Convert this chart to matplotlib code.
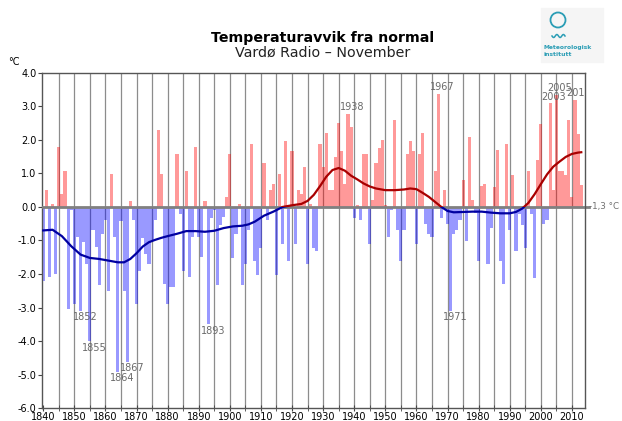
import numpy as np
import matplotlib.pyplot as plt
from matplotlib.patches import Rectangle, Ellipse
from matplotlib.lines import Line2D
from matplotlib.transforms import blended_transform_factory

# November temperature anomaly, Vardø Radio, 1840-2013 (deg C, from normal)
years = np.arange(1840, 2014)
anomaly = [
    -2.2, 0.5, -2.1, 0.08, -2.0, 1.8, 0.38, 1.08, -3.03, -0.1,        # 1840s
    -2.9, -0.91, -3.09, -1.03, -1.69, -4.0, -0.7, -1.2, -2.32, -0.81,  # 1850s
    -0.4, -2.5, 0.97, -0.91, -4.91, -0.42, -2.51, -4.61, 0.18, -0.4,   # 1860s
    -2.9, -1.9, -0.92, -1.4, -1.7, -1.0, -0.4, 2.3, 0.98, -2.3,        # 1870s
    -2.9, -2.4, -2.4, 1.59, -0.2, -1.9, 1.08, -2.1, -0.91, 1.78,       # 1880s
    -0.91, -1.5, 0.18, -3.5, -0.34, -0.1, -2.32, -0.53, -0.3, 0.3,     # 1890s
    1.59, -1.52, -0.81, 0.08, -2.32, -1.7, -0.68, 1.89, -1.6, -2.02,   # 1900s
    -1.21, 1.3, -0.39, 0.49, 0.67, -2.02, 0.97, -1.11, 1.96, -1.6,     # 1910s
    1.66, -1.11, 0.49, 0.38, 1.18, -1.7, 0.08, -1.21, -1.31, 1.89,     # 1920s
    1.18, 2.19, 0.49, 0.49, 1.5, 2.49, 1.67, 0.67, 2.78, 2.37,         # 1930s
    -0.32, 0.07, -0.4, 1.59, 1.59, -1.1, 0.2, 1.3, 1.75, 1.98,         # 1940s
    0.05, -0.9, -0.1, 2.6, -0.68, -1.6, -0.68, 1.59, 1.97, 1.66,       # 1950s
    -1.1, 1.59, 2.19, -0.51, -0.81, -0.91, 1.08, 3.38, -0.32, 0.49,    # 1960s
    -0.51, -3.09, -0.8, -0.7, -0.4, 0.8, -1.02, 2.09, 0.2, -0.18,      # 1970s
    -1.62, 0.62, 0.68, -1.7, -0.62, 0.6, 1.69, -1.62, -2.31, 1.88,     # 1980s
    -0.7, 0.96, -1.32, -0.2, -0.53, -1.22, 1.08, -0.2, -2.11, 1.39,    # 1990s
    2.48, -0.5, -0.4, 3.1, 0.49, 3.35, 1.08, 1.08, 0.96, 2.6,          # 2000s
    0.3, 3.2, 2.18, 0.66,                                              # 2010s
]

# smoothed curve
smooth_years = [1840, 1843, 1846, 1849, 1852, 1855, 1858, 1861, 1864, 1866,
                1868, 1870, 1872, 1874, 1876, 1878, 1880, 1883, 1886, 1889,
                1892, 1895, 1898, 1901, 1904, 1906, 1908, 1911, 1914, 1917,
                1920, 1923, 1925, 1927, 1929, 1931, 1933, 1935, 1937, 1939,
                1941, 1943, 1945, 1947, 1950, 1953, 1956, 1958, 1960, 1962,
                1964, 1966, 1968, 1970, 1972, 1975, 1978, 1981, 1984, 1987,
                1990, 1992, 1994, 1996, 1998, 2000, 2002, 2004, 2006, 2008,
                2010, 2012, 2013]
smooth_values = [-0.70, -0.68, -0.87, -1.17, -1.42, -1.52, -1.55, -1.60, -1.65, -1.65,
                 -1.55, -1.38, -1.18, -1.05, -0.98, -0.92, -0.87, -0.80, -0.72, -0.72,
                 -0.74, -0.71, -0.63, -0.58, -0.56, -0.52, -0.44, -0.26, -0.14, 0.0,
                 0.05, 0.09, 0.18, 0.36, 0.62, 0.90, 1.10, 1.16, 1.08, 0.93,
                 0.82, 0.70, 0.61, 0.55, 0.50, 0.50, 0.52, 0.55, 0.53, 0.42,
                 0.30, 0.15, 0.00, -0.12, -0.16, -0.15, -0.14, -0.14, -0.17, -0.19,
                 -0.19, -0.15, -0.05, 0.12, 0.38, 0.68, 0.97, 1.20, 1.35, 1.49,
                 1.58, 1.62, 1.63]

cold_years = [1852, 1855, 1864, 1867, 1893, 1971]
warm_years = [1938, 1967, 2003, 2005, 2011]

fig = plt.figure(figsize=(6.22, 4.21), dpi=100)
ax = fig.add_axes([0.0675, 0.0302, 0.8735, 0.7971])

# vertical grid every 5 years
for gx in range(1845, 2015, 5):
    ax.axvline(gx, color='#8c8c8c', lw=0.9, zorder=1)

colors = [(1, 0, 0, 0.4) if v > 0 else (0, 0, 1, 0.4) for v in anomaly]
ax.bar(years, anomaly, width=1.0, color=colors, linewidth=0, zorder=2)

ax.axhline(0, color='#808080', lw=2, zorder=3)

# smoothed line: red above zero, blue below
line_r, = ax.plot(smooth_years, smooth_values, color='#a80000', lw=1.6, zorder=4)
line_b, = ax.plot(smooth_years, smooth_values, color='#0000a0', lw=1.6, zorder=4)
line_r.set_clip_path(Rectangle((1800, 0), 300, 20, transform=ax.transData))
line_b.set_clip_path(Rectangle((1800, -20), 300, 20, transform=ax.transData))

anom = dict(zip(years, anomaly))
for y in cold_years:
    ax.annotate(str(y), (y + 1.5, anom[y]), xytext=(0, -1), textcoords='offset points',
                ha='center', va='top', fontsize=7, color='#6a6a6a', zorder=5)
for y in warm_years:
    ax.annotate(str(y), (y + 1.2, anom[y]), xytext=(0, 1), textcoords='offset points',
                ha='center', va='bottom', fontsize=7, color='#6a6a6a', zorder=5,
                annotation_clip=False, clip_on=True)

ax.set_xlim(1839.6, 2014.3)
ax.set_ylim(-6, 4)
ax.set_xticks(range(1840, 2011, 10))
ax.set_xticks(range(1845, 2015, 10), minor=True)
ax.set_yticks(range(-6, 5))
ax.set_yticklabels([f'{v:.1f}' for v in range(-6, 5)])
ax.tick_params(axis='x', which='both', direction='inout', length=5, labelsize=7,
               pad=0.5, color='#444444')
ax.tick_params(axis='y', direction='out', length=3, labelsize=7, pad=1, color='#444444')
for s in ax.spines.values():
    s.set_color('#555555')
    s.set_linewidth(1.0)

# normal value marker on the right
tr = blended_transform_factory(ax.transAxes, ax.transData)
ax.add_line(Line2D([1.0, 1.006], [0, 0], transform=tr, color='#808080', lw=2, clip_on=False))
ax.text(1.007, 0, '-1,3 °C', transform=tr, ha='left', va='center', fontsize=6.3,
        color='#707070', clip_on=False)

fig.text(0.518, 0.909, 'Temperaturavvik fra normal', ha='center', va='center',
         fontsize=10.2, fontweight='bold')
fig.text(0.518, 0.876, 'Vardø Radio – November', ha='center', va='center', fontsize=10.3,
         color='#222222')
fig.text(0.013, 0.853, '°C', ha='left', va='center', fontsize=7)

# logo
fig.add_artist(Rectangle((541 / 622, 1 - 62 / 421), 62 / 622, 54 / 421,
                         transform=fig.transFigure, color='#f5f5f5', zorder=0))
fig.add_artist(Ellipse((558 / 622, 1 - 20 / 421), 15 / 622, 15 / 421, transform=fig.transFigure,
                       fill=False, ec='#2a9db5', lw=1.3))
wx = np.linspace(552, 565, 30)
fig.add_artist(Line2D(wx / 622, 1 - (36 + 1.5 * np.sin((wx - 552) / 13 * 4 * np.pi)) / 421,
                      transform=fig.transFigure, color='#2a9db5', lw=1.1))
fig.text(544 / 622, 1 - 47 / 421, 'Meteorologisk', fontsize=4.3, color='#2a9db5',
         fontweight='bold', va='center')
fig.text(544 / 622, 1 - 54 / 421, 'institutt', fontsize=4.3, color='#2a9db5',
         fontweight='bold', va='center')

fig.savefig('out.png', dpi=100)
